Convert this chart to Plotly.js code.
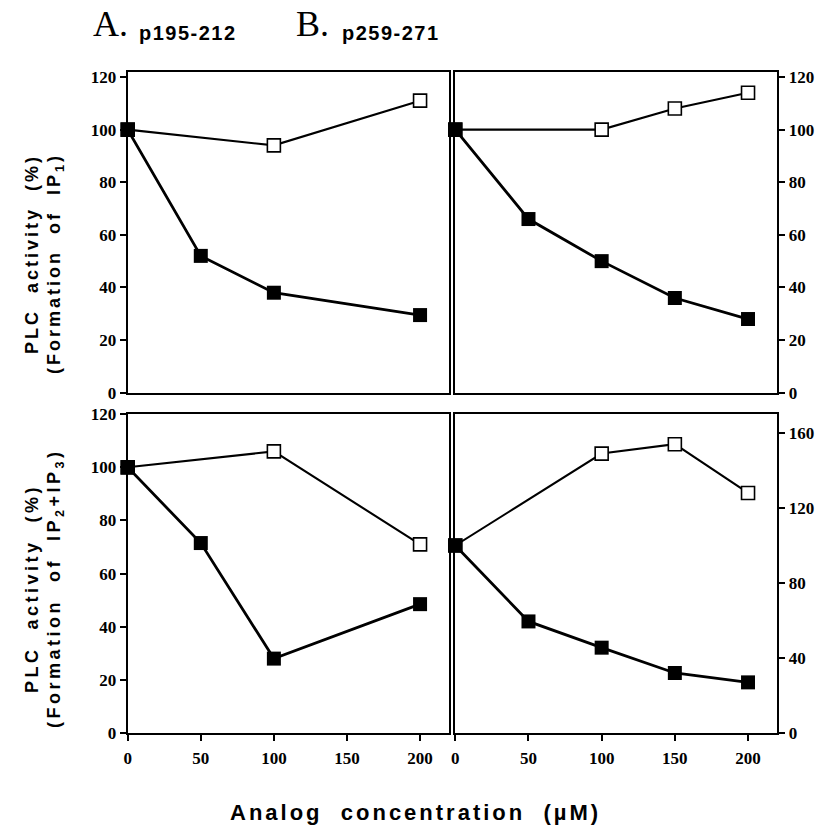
<!DOCTYPE html>
<html>
<head>
<meta charset="utf-8">
<script src="https://cdn.plot.ly/plotly-3.0.1.min.js"></script>
<style>
  html, body { margin: 0; padding: 0; background: #fff; }
  #chart { width: 825px; height: 835px; }
</style>
</head>
<body>
<div id="chart"></div>
<script>
// Analog concentration (µM) for each series
const concA_filled = [0, 50, 100, 200];
const concA_open = [0, 100, 200];
const concB_filled = [0, 50, 100, 150, 200];
const concB_open = [0, 100, 150, 200];

// PLC activity (%) - formation of IP1
const A_IP1_filled = [100, 52, 38, 29.5];
const A_IP1_open = [100, 94, 111];
const B_IP1_filled = [100, 66, 50, 36, 28];
const B_IP1_open = [100, 100, 108, 114];

// PLC activity (%) - formation of IP2+IP3
const A_IP23_filled = [100, 71.5, 28, 48.5];
const A_IP23_open = [100, 106, 71];
const B_IP23_filled = [100, 59.5, 45.5, 32, 27];
const B_IP23_open = [100, 149, 154, 128];

const xTicks = [0, 50, 100, 150, 200];
const yTicksA = [0, 20, 40, 60, 80, 100, 120];
const yTicksBbottom = [0, 40, 80, 120, 160];

const panelTitles = [
  { letter: 'A.', peptide: 'p195-212' },
  { letter: 'B.', peptide: 'p259-271' }
];
const NB = '\u00A0';
const yTitleLine1 = 'PLC' + NB + NB + 'activity' + NB + NB + '(%)';
const yTitleTop = '(Formation' + NB + NB + 'of' + NB + NB + 'IP<sub>1</sub>)';
const yTitleBottom = '(Formation' + NB + NB + 'of' + NB + NB + 'IP<sub>2</sub>+IP<sub>3</sub>)';
const xTitle = 'Analog' + NB + NB + 'concentration' + NB + NB + '(\u00B5M)';

const W = 825, H = 835;
const px = v => v / W;
const py = v => 1 - v / H;
const spaced = (s, ls) => '<span style="letter-spacing:' + ls + 'px">' + s + '</span>';

function openTrace(x, y, xa, ya) {
  return {
    x: x, y: y, xaxis: xa, yaxis: ya, type: 'scatter', mode: 'lines+markers',
    cliponaxis: false, showlegend: false,
    line: { color: '#000', width: 2.1 },
    marker: { symbol: 'square', size: 13, color: '#fff', line: { color: '#000', width: 1.6 } }
  };
}
function filledTrace(x, y, xa, ya) {
  return {
    x: x, y: y, xaxis: xa, yaxis: ya, type: 'scatter', mode: 'lines+markers',
    cliponaxis: false, showlegend: false,
    line: { color: '#000', width: 2.8 },
    marker: { symbol: 'square', size: 14, color: '#000', line: { color: '#000', width: 0 } }
  };
}

const data = [
  openTrace(concA_open, A_IP1_open, 'x', 'y'),
  filledTrace(concA_filled, A_IP1_filled, 'x', 'y'),
  openTrace(concB_open, B_IP1_open, 'x2', 'y2'),
  filledTrace(concB_filled, B_IP1_filled, 'x2', 'y2'),
  openTrace(concA_open, A_IP23_open, 'x3', 'y3'),
  filledTrace(concA_filled, A_IP23_filled, 'x3', 'y3'),
  openTrace(concB_open, B_IP23_open, 'x4', 'y4'),
  filledTrace(concB_filled, B_IP23_filled, 'x4', 'y4')
];

const tickFont = { family: '"Liberation Serif", "Times New Roman", serif', size: 17, color: '#000', weight: 'bold' };
const sansBold = '"Liberation Sans", Arial, Helvetica, sans-serif';

const domLeft = [px(127.7), px(449.3)];
const domRight = [px(455.3), px(777.3)];
const domTop = [py(392.7), py(71.7)];
const domBottom = [py(733), py(414.2)];

function xAxis(domain, anchor, withTicks) {
  return {
    domain: domain, anchor: anchor, range: [0, 220],
    showline: true, mirror: true, linecolor: '#000', linewidth: 2,
    showgrid: false, zeroline: false,
    tickmode: 'array', tickvals: xTicks,
    ticks: withTicks ? 'outside' : '', ticklen: 6, tickwidth: 2, tickcolor: '#000',
    ticklabelstandoff: 3,
    showticklabels: withTicks, tickfont: tickFont, fixedrange: true
  };
}
function yAxis(domain, anchor, range, vals, side) {
  return {
    domain: domain, anchor: anchor, range: range, side: side,
    showline: true, mirror: true, linecolor: '#000', linewidth: 2,
    showgrid: false, zeroline: false,
    tickmode: 'array', tickvals: vals,
    ticks: 'outside', ticklen: 6, tickwidth: 2, tickcolor: '#000',
    tickfont: tickFont, fixedrange: true
  };
}

const annotations = [];
// Panel headings
const headingLetterX = [110, 312];
const headingPeptideX = [188, 391];
panelTitles.forEach((t, i) => {
  annotations.push({
    xref: 'paper', yref: 'paper', x: px(headingLetterX[i]), y: py(24),
    xanchor: 'center', yanchor: 'middle', showarrow: false, text: t.letter,
    font: { family: '"Liberation Serif", "Times New Roman", serif', size: 36, color: '#000' }
  });
  annotations.push({
    xref: 'paper', yref: 'paper', x: px(headingPeptideX[i]), y: py(33),
    xanchor: 'center', yanchor: 'middle', showarrow: false, text: spaced(t.peptide, 1.5),
    font: { family: sansBold, size: 20, color: '#000', weight: 'bold' }
  });
});
// Y-axis titles (two lines each)
[[254, 264, 3, yTitleTop], [589, 588, 3.5, yTitleBottom]].forEach(([c1, c2, ls, line2]) => {
  annotations.push({
    xref: 'paper', yref: 'paper', x: px(32), y: py(c1),
    xanchor: 'center', yanchor: 'middle', showarrow: false, textangle: -90,
    text: spaced(yTitleLine1, ls), font: { family: sansBold, size: 18, color: '#000', weight: 'bold' }
  });
  annotations.push({
    xref: 'paper', yref: 'paper', x: px(55), y: py(c2),
    xanchor: 'center', yanchor: 'middle', showarrow: false, textangle: -90,
    text: spaced(line2, ls), font: { family: sansBold, size: 18, color: '#000', weight: 'bold' }
  });
});
// X-axis title
annotations.push({
  xref: 'paper', yref: 'paper', x: px(415), y: py(812),
  xanchor: 'center', yanchor: 'middle', showarrow: false,
  text: spaced(xTitle, 3), font: { family: sansBold, size: 22, color: '#000', weight: 'bold' }
});

const layout = {
  width: W, height: H,
  margin: { l: 0, r: 0, t: 0, b: 0 },
  paper_bgcolor: '#fff', plot_bgcolor: '#fff',
  showlegend: false,
  xaxis: xAxis(domLeft, 'y', false),
  yaxis: yAxis(domTop, 'x', [0, 122], yTicksA, 'left'),
  xaxis2: xAxis(domRight, 'y2', false),
  yaxis2: yAxis(domTop, 'x2', [0, 122], yTicksA, 'right'),
  xaxis3: xAxis(domLeft, 'y3', true),
  yaxis3: yAxis(domBottom, 'x3', [0, 120], yTicksA, 'left'),
  xaxis4: xAxis(domRight, 'y4', true),
  yaxis4: yAxis(domBottom, 'x4', [0, 170], yTicksBbottom, 'right'),
  annotations: annotations
};

Plotly.newPlot('chart', data, layout, { displayModeBar: false, staticPlot: true });
</script>
</body>
</html>
